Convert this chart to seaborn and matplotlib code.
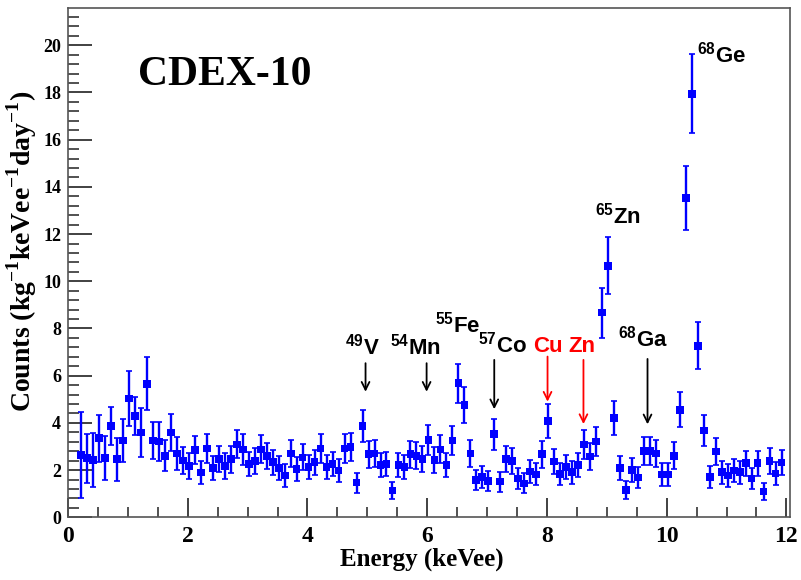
import numpy as np
import pandas as pd
import matplotlib
matplotlib.use("Agg")
import matplotlib.pyplot as plt
import seaborn as sns
from matplotlib.ticker import MultipleLocator

# ---- data ----
energy_start = 0.22
bin_width = 0.1
counts = [2.64, 2.50, 2.43, 3.35, 2.50, 3.88, 2.46, 3.25, 5.03, 4.29,
          3.59, 5.66, 3.25, 3.22, 2.61, 3.59, 2.71, 2.40, 2.18, 2.85,
          1.89, 2.91, 2.08, 2.46, 2.18, 2.46, 3.09, 2.88, 2.25, 2.39,
          2.88, 2.60, 2.34, 2.10, 1.77, 2.71, 2.05, 2.54, 2.13, 2.34,
          2.91, 2.12, 2.25, 1.98, 2.92, 2.97, 1.47, 3.87, 2.68, 2.71,
          2.22, 2.25, 1.13, 2.22, 2.13, 2.67, 2.61, 2.46, 3.28, 2.43,
          2.88, 2.22, 3.25, 5.68, 4.76, 2.71, 1.58, 1.72, 1.54, 3.52,
          1.51, 2.46, 2.39, 1.65, 1.44, 1.94, 1.82, 2.68, 4.08, 2.36,
          1.84, 2.12, 1.91, 2.22, 3.09, 2.57, 3.21, 8.67, 10.66, 4.22,
          2.10, 1.16, 2.01, 1.68, 2.82, 2.81, 2.71, 1.81, 1.81, 2.61,
          4.55, 13.52, 17.94, 7.27, 3.67, 1.72, 2.78, 1.91, 1.77, 1.98,
          1.91, 2.29, 1.65, 2.29, 1.09, 2.39, 1.86, 2.32]
errors = [1.82, 1.04, 1.13, 0.99, 0.94, 0.81, 0.92, 0.92, 1.15, 0.81,
          1.04, 1.12, 0.80, 0.83, 0.66, 0.80, 0.69, 0.56, 0.56, 0.60,
          0.50, 0.60, 0.51, 0.55, 0.54, 0.58, 0.59, 0.66, 0.50, 0.54,
          0.59, 0.56, 0.53, 0.51, 0.47, 0.57, 0.50, 0.55, 0.51, 0.53,
          0.60, 0.51, 0.52, 0.49, 0.60, 0.60, 0.42, 0.69, 0.57, 0.57,
          0.52, 0.52, 0.36, 0.52, 0.51, 0.57, 0.56, 0.55, 0.63, 0.54,
          0.59, 0.52, 0.63, 0.83, 0.76, 0.57, 0.44, 0.46, 0.43, 0.65,
          0.43, 0.55, 0.54, 0.45, 0.42, 0.49, 0.47, 0.57, 0.71, 0.54,
          0.48, 0.51, 0.48, 0.52, 0.62, 0.56, 0.63, 1.06, 1.20, 0.72,
          0.51, 0.37, 0.50, 0.45, 0.59, 0.59, 0.57, 0.47, 0.47, 0.56,
          0.74, 1.35, 1.67, 0.99, 0.67, 0.46, 0.58, 0.48, 0.47, 0.49,
          0.48, 0.53, 0.45, 0.53, 0.36, 0.54, 0.48, 0.53]
energies = [round(energy_start + bin_width * i, 3) for i in range(len(counts))]

# peak labels: (text, x, y, color)
peak_labels = [r"$^{\mathrm{49}}$V", r"$^{\mathrm{54}}$Mn", r"$^{\mathrm{55}}$Fe",
               r"$^{\mathrm{57}}$Co", "Cu", "Zn", r"$^{\mathrm{65}}$Zn",
               r"$^{\mathrm{68}}$Ga", r"$^{\mathrm{68}}$Ge"]
label_x = [4.63, 5.38, 6.13, 6.85, 7.77, 8.35, 8.80, 9.19, 10.51]
label_y = [6.88, 6.88, 7.85, 6.97, 7.01, 7.01, 12.47, 7.22, 19.25]
label_colors = ["black", "black", "black", "black", "red", "red", "black", "black", "black"]

# arrows: x, y_start, y_tip, color
arrow_x = [4.97, 5.99, 7.12, 8.01, 8.61, 9.68]
arrow_top = [6.53, 6.53, 6.67, 6.81, 6.67, 6.71]
arrow_tip = [5.32, 5.32, 4.58, 4.90, 3.95, 3.94]
arrow_colors = ["black", "black", "black", "red", "red", "black"]

df = pd.DataFrame({"Energy": energies, "Counts": counts, "Err": errors})

sns.set_theme(style="white")
plt.rcParams["mathtext.fontset"] = "custom"
plt.rcParams["mathtext.rm"] = "Liberation Sans:bold"
plt.rcParams["mathtext.bf"] = "Liberation Serif:bold"

fig = plt.figure(figsize=(8.01, 5.80), dpi=100)
ax = fig.add_axes([68 / 801, (580 - 517.3) / 580, (790 - 68) / 801, (517.3 - 8) / 580])

ax.errorbar(df["Energy"], df["Counts"], yerr=df["Err"], fmt="none",
            ecolor="#0000ff", elinewidth=1.7, capsize=2.2, capthick=1.2, zorder=2)
sns.scatterplot(data=df, x="Energy", y="Counts", marker="s", color="#0000ff",
                s=30, edgecolor="none", linewidth=0, ax=ax, zorder=3)

ax.set_xlim(0, 12.06)
ax.set_ylim(0, 21.58)
ax.xaxis.set_major_locator(MultipleLocator(2))
ax.xaxis.set_minor_locator(MultipleLocator(0.5))
ax.yaxis.set_major_locator(MultipleLocator(2))
ax.yaxis.set_minor_locator(MultipleLocator(0.4))

for sp in ax.spines.values():
    sp.set_color("#555555")
    sp.set_linewidth(1.2)

ax.tick_params(axis="both", which="both", direction="in", colors="#333333",
               top=False, right=False, bottom=True, left=True)
ax.tick_params(axis="x", which="major", length=14, width=1.3, pad=6)
ax.tick_params(axis="x", which="minor", length=7, width=1.2)
ax.tick_params(axis="y", which="major", length=17, width=1.3, pad=5)
ax.tick_params(axis="y", which="minor", length=8, width=1.2)

for lab in ax.get_xticklabels():
    lab.set_fontfamily("Liberation Serif")
    lab.set_fontweight("bold")
    lab.set_fontsize(17)
    lab.set_color("black")
for lab in ax.get_yticklabels():
    lab.set_fontfamily("Liberation Serif")
    lab.set_fontweight("bold")
    lab.set_fontsize(13)
    lab.set_color("black")

ax.set_xlabel("Energy (keVee)", fontfamily="Liberation Serif", fontweight="bold",
              fontsize=18, labelpad=1, color="black")
ax.xaxis.label.set_x(0.49)
ax.set_ylabel(r"Counts (kg$^{\mathbf{-1}}$keVee$^{\mathbf{-1}}$day$^{\mathbf{-1}}$)",
              fontfamily="Liberation Serif", fontweight="bold", fontsize=20,
              labelpad=3, color="black")
ax.yaxis.label.set_y(0.523)

ax.text(1.17, 18.3, "CDEX-10", fontfamily="Liberation Serif", fontweight="bold",
        fontsize=30, color="black", ha="left", va="baseline")

for t, lx, ly, c in zip(peak_labels, label_x, label_y, label_colors):
    ax.text(lx, ly, t, fontfamily="Liberation Sans", fontweight="bold",
            fontsize=16, color=c, ha="left", va="baseline")

for axx, yt, yh, c in zip(arrow_x, arrow_top, arrow_tip, arrow_colors):
    ax.annotate("", xy=(axx, yh), xytext=(axx, yt),
                arrowprops=dict(arrowstyle="->", color=c, lw=1.3,
                                mutation_scale=14, shrinkA=0, shrinkB=0))

sns.despine(ax=ax, top=False, right=False)
fig.savefig("out.png", dpi=100)
